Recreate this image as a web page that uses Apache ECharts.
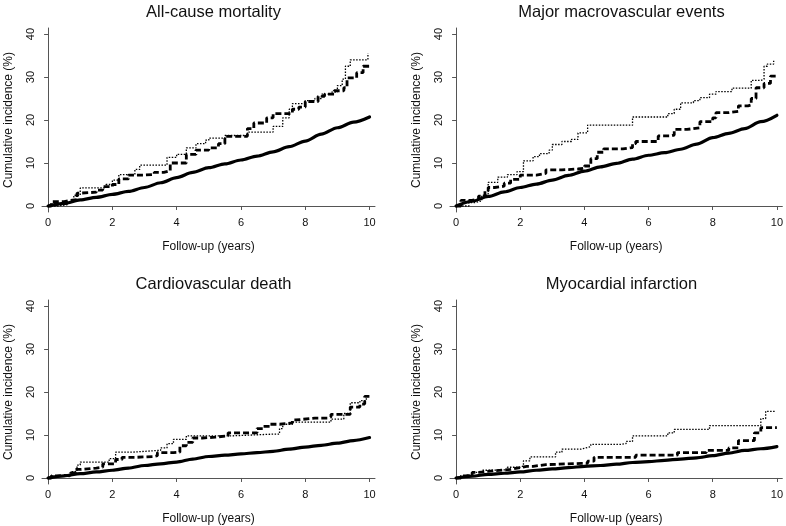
<!DOCTYPE html>
<html><head><meta charset="utf-8">
<script src="https://cdn.jsdelivr.net/npm/echarts@6/dist/echarts.min.js"></script>
<style>html,body{margin:0;padding:0;background:#fff}#c{width:786px;height:526px}</style>
</head><body><div id="c"></div>
<script>
const titles = ['All-cause mortality','Major macrovascular events','Cardiovascular death','Myocardial infarction'];
const xTicks = [0,2,4,6,8,10];
const yTicks = [0,10,20,30,40];
const xName = 'Follow-up (years)';
const yName = 'Cumulative incidence (%)';

// All-cause mortality
const acmSolid = [[0,0],[0.5,0.6],[1,1.4],[1.5,2.0],[2,2.7],[2.5,3.4],[3,4.3],[3.5,5.4],[4,6.6],[4.5,7.8],[5,8.9],[5.5,9.8],[6,10.7],[6.5,11.6],[7,12.6],[7.5,13.8],[8,15.1],[8.5,16.7],[9,18.2],[9.5,19.5],[10,20.7]];
const acmDash = [[0,0],[0.1,1.0],[0.5,1.3],[0.7,1.5],[0.9,3.0],[1.0,3.2],[1.5,3.7],[1.7,4.5],[2.0,5.0],[2.2,6.3],[2.5,7.2],[3.0,7.3],[3.3,7.8],[3.6,8.2],[3.8,10.0],[4.3,12.0],[4.6,13.0],[5.0,13.5],[5.3,14.5],[5.5,16.2],[6.0,16.2],[6.2,18.0],[6.4,19.3],[6.8,20.5],[7.0,21.5],[7.3,21.5],[7.6,22.5],[7.8,23.0],[8.0,24.3],[8.4,25.5],[8.6,26.0],[8.9,26.8],[9.2,27.5],[9.3,29.8],[9.6,31.0],[9.8,32.5],[10.0,33.0]];
const acmDot = [[0,0],[0.3,0.3],[0.6,1.0],[0.8,2.5],[1.0,4.2],[1.5,4.2],[1.8,5.0],[2.0,6.0],[2.2,7.3],[2.6,7.3],[2.7,8.5],[2.85,9.5],[3.5,9.5],[3.7,11.3],[4.0,12.0],[4.3,13.5],[4.6,14.5],[4.9,15.3],[5.0,15.8],[5.5,16.4],[6.0,16.4],[6.2,17.2],[6.8,17.2],[7.0,18.5],[7.3,20.5],[7.5,22.5],[7.6,23.8],[8.0,24.5],[8.3,25.0],[8.5,26.0],[8.8,26.5],[9.0,28.0],[9.15,29.5],[9.25,32.5],[9.4,34.0],[9.8,34.0],[9.95,35.5]];

// Major macrovascular events
const mmeSolid = [[0,0],[0.5,1.1],[1,2.2],[1.5,3.3],[2,4.3],[2.5,5.1],[3,6.0],[3.5,7.1],[4,8.1],[4.5,9.1],[5,9.9],[5.5,10.9],[6,11.8],[6.5,12.4],[7,13.2],[7.5,14.4],[8,15.9],[8.5,16.9],[9,18.0],[9.5,19.6],[10,21.1]];
const mmeDash = [[0,0],[0.15,1.3],[0.5,1.7],[0.7,2.3],[0.9,3.5],[1.0,4.3],[1.2,4.6],[1.5,5.3],[1.7,6.2],[2.0,7.2],[2.5,7.6],[2.8,8.4],[3.3,8.6],[3.8,8.8],[4.0,9.3],[4.2,11.0],[4.4,12.5],[4.6,13.3],[5.2,13.6],[5.5,14.5],[5.6,15.0],[6.0,15.0],[6.3,16.3],[6.7,16.5],[6.8,17.8],[7.2,18.2],[7.6,19.6],[8.0,20.5],[8.1,21.7],[8.5,22.0],[8.8,23.3],[9.1,23.5],[9.2,25.0],[9.35,27.5],[9.6,28.5],[9.8,30.2],[10.0,30.0]];
const mmeDot = [[0,0],[0.4,0.8],[0.6,1.2],[0.8,2.5],[1.0,5.5],[1.3,6.7],[1.6,7.3],[1.9,8.0],[2.1,10.5],[2.4,11.5],[2.6,12.2],[2.9,13.0],[3.0,14.3],[3.3,15.0],[3.6,15.5],[3.8,17.0],[4.1,18.8],[5.3,18.8],[5.5,20.7],[6.3,20.7],[6.6,21.5],[6.8,22.5],[7.0,24.0],[7.4,24.5],[7.6,25.2],[7.9,26.0],[8.1,26.6],[8.6,27.4],[9.1,27.4],[9.2,29.2],[9.5,29.5],[9.6,32.5],[9.7,33.0],[9.9,33.8]];

// Cardiovascular death
const cvdSolid = [[0,0],[0.5,0.5],[1,1.0],[1.5,1.4],[2,1.8],[2.5,2.3],[3,2.9],[3.5,3.3],[4,3.7],[4.5,4.4],[5,5.0],[5.5,5.3],[6,5.6],[6.5,5.9],[7,6.2],[7.5,6.7],[8,7.2],[8.5,7.6],[9,8.1],[9.5,8.7],[10,9.4]];
const cvdDash = [[0,0],[0.1,0.5],[0.3,0.6],[0.5,0.5],[0.7,1.2],[0.85,2.0],[1.0,2.3],[1.5,2.5],[1.7,3.3],[2.0,3.3],[2.1,4.3],[2.3,4.8],[2.7,5.0],[3.3,5.2],[3.4,5.9],[3.9,6.0],[4.1,7.5],[4.3,8.3],[4.5,9.3],[4.8,9.5],[5.2,9.8],[5.6,10.5],[6.2,10.5],[6.5,11.5],[6.7,12.0],[6.9,12.5],[7.2,12.8],[7.6,13.5],[7.7,13.9],[8.3,13.9],[8.7,14.2],[8.8,14.8],[9.2,14.8],[9.4,16.5],[9.7,17.2],[9.85,19.0],[10.0,19.3]];
const cvdDot = [[0,0],[0.1,0.5],[0.4,0.5],[0.7,1.5],[0.9,3.0],[1.0,3.7],[1.8,3.7],[1.9,4.5],[2.1,6.0],[2.6,6.4],[3.4,6.4],[3.5,7.0],[3.7,8.0],[3.9,9.0],[4.3,9.8],[5.5,9.8],[5.7,10.2],[7.0,10.2],[7.2,11.5],[7.3,12.5],[7.6,13.0],[8.8,13.7],[9.2,15.0],[9.4,17.5],[9.7,18.0],[9.9,19.0]];

// Myocardial infarction
const miSolid = [[0,0],[0.5,0.4],[1,0.85],[1.5,1.1],[2,1.4],[2.5,1.8],[3,2.1],[3.5,2.4],[4,2.7],[4.5,2.9],[5,3.2],[5.5,3.6],[6,3.8],[6.5,4.1],[7,4.4],[7.5,4.7],[8,5.2],[8.5,5.8],[9,6.4],[9.5,6.8],[10,7.3]];
const miDash = [[0,0],[0.15,0.5],[0.3,0.7],[0.5,1.3],[0.7,1.7],[1.2,2.0],[1.7,2.3],[1.9,2.7],[2.2,2.7],[2.4,3.1],[2.8,3.4],[3.9,3.4],[4.1,3.9],[4.3,4.8],[5.5,4.8],[5.6,5.3],[6.8,5.3],[6.9,5.9],[7.6,5.9],[7.8,6.4],[8.3,6.4],[8.5,7.0],[8.8,8.7],[9.1,8.7],[9.3,10.5],[9.5,11.7],[10.0,11.7]];
const miDot = [[0,0],[0.1,0.5],[0.3,0.8],[0.5,1.3],[0.8,1.8],[1.0,1.9],[1.6,2.5],[2.0,2.8],[2.1,4.0],[2.3,4.9],[3.0,4.9],[3.1,6.0],[3.3,6.7],[3.9,6.9],[4.0,7.3],[4.2,7.8],[5.1,8.0],[5.3,8.5],[5.5,9.8],[6.5,9.8],[6.6,10.5],[6.8,11.3],[7.8,11.3],[7.9,12.2],[9.4,12.2],[9.5,13.8],[9.65,15.5],[9.95,15.5]];

const panels = [
  [acmSolid, acmDash, acmDot],
  [mmeSolid, mmeDash, mmeDot],
  [cvdSolid, cvdDash, cvdDot],
  [miSolid, miDash, miDot]
];

const font = 'Liberation Sans, Arial, Helvetica, sans-serif';
const gridPos = [
  {left: 42, top: 28}, {left: 450, top: 28},
  {left: 42, top: 300}, {left: 450, top: 300}
];
const W = 333, H = 184;
const axisColor = '#555';

const option = {
  backgroundColor: '#fff',
  animation: false,
  title: gridPos.map((g, i) => ({
    text: titles[i], left: g.left + W / 2, top: g.top - 29, textAlign: 'center',
    textStyle: {fontFamily: font, fontSize: 16.5, fontWeight: 'normal', color: '#111'}
  })),
  grid: gridPos.map(g => ({left: g.left, top: g.top, width: W, height: H})),
  xAxis: gridPos.map((g, i) => ({
    type: 'value', gridIndex: i, min: -0.19, max: 10.17,
    name: xName, nameLocation: 'middle', nameGap: 29,
    nameTextStyle: {fontFamily: font, fontSize: 12, color: '#111'},
    axisLine: {show: true, lineStyle: {color: axisColor, width: 1}},
    axisTick: {show: true, length: 4, customValues: xTicks, lineStyle: {color: axisColor}},
    axisLabel: {customValues: xTicks, margin: 5, fontFamily: font, fontSize: 11, color: '#111'},
    splitLine: {show: false}
  })),
  yAxis: gridPos.map((g, i) => ({
    type: 'value', gridIndex: i, min: -1.4, max: 41.4,
    name: yName, nameLocation: 'middle', nameGap: 27,
    nameTextStyle: {fontFamily: font, fontSize: 12, color: '#111'},
    axisLine: {show: true, lineStyle: {color: axisColor, width: 1}},
    axisTick: {show: true, length: 4, customValues: yTicks, lineStyle: {color: axisColor}},
    axisLabel: {customValues: yTicks, rotate: 90, margin: 6, fontFamily: font, fontSize: 11, color: '#111'},
    splitLine: {show: false}
  })),
  series: []
};
panels.forEach((p, i) => {
  option.series.push({type: 'line', xAxisIndex: i, yAxisIndex: i, data: p[0], showSymbol: false,
    smooth: 0.3, smoothMonotone: 'x',
    lineStyle: {color: '#000', width: 3.2, type: 'solid', cap: 'round', join: 'round'}});
  option.series.push({type: 'line', xAxisIndex: i, yAxisIndex: i, data: p[1], showSymbol: false, step: 'end',
    lineStyle: {color: '#000', width: 2.8, type: [6, 3]}});
  option.series.push({type: 'line', xAxisIndex: i, yAxisIndex: i, data: p[2], showSymbol: false, step: 'end',
    lineStyle: {color: '#000', width: 1.3, type: [1.5, 1.5]}});
});
const chart = echarts.init(document.getElementById('c'), null, {renderer: 'canvas'});
chart.setOption(option);
</script></body></html>
